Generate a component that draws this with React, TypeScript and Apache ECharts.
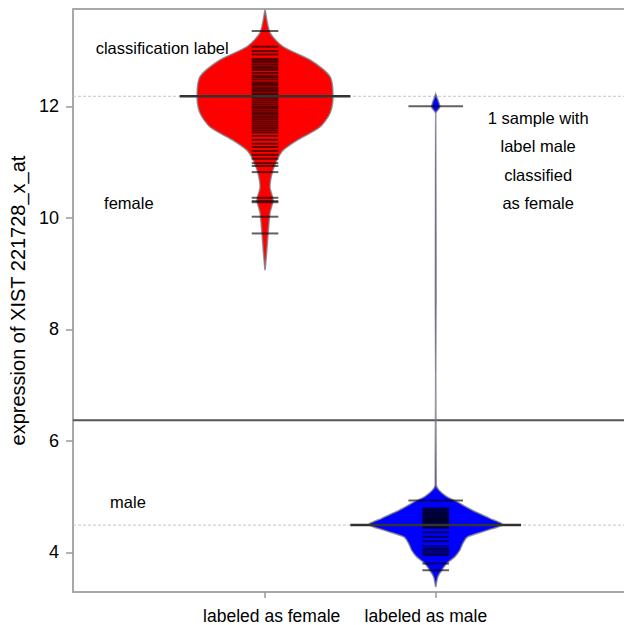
import React, { useEffect, useRef } from "react";
import * as echarts from "echarts";

const categories = ["labeled as female", "labeled as male"];
const categoryTicks = [1, 2];
const categoryLabelPos = [1.039, 1.942];
const yTicks = [4, 6, 8, 10, 12];

// individual samples (bean lines)
const femaleSamples = [
  13.35, 13.07, 12.99, 12.93, 12.85, 12.82, 12.79, 12.75, 12.71, 12.68, 12.65, 12.6,
  12.55, 12.52, 12.48, 12.43, 12.4, 12.37, 12.33, 12.3, 12.27, 12.23, 12.2, 12.15,
  12.11, 12.07, 12.03, 11.99, 11.96, 11.92, 11.88, 11.85, 11.81, 11.77, 11.73, 11.69,
  11.65, 11.61, 11.57, 11.53, 11.47, 11.4, 11.33, 11.27, 11.2, 11.13, 11.06, 10.98,
  10.93, 10.82, 10.36, 10.3, 10.28, 10.02, 9.72,
];
const maleSamples = [
  12.0, 4.93, 4.79, 4.77, 4.75, 4.72, 4.7, 4.68, 4.66, 4.64, 4.62, 4.6, 4.58, 4.56,
  4.54, 4.52, 4.5, 4.48, 4.46, 4.44, 4.36, 4.28, 4.2, 4.11, 4.06, 4.02, 3.98, 3.95,
  3.8, 3.68,
];

// density outline of each bean: value levels and half widths (x units)
const femaleProfileY = [9.06, 9.37, 9.73, 10.09, 10.32, 10.55, 10.8, 11.04, 11.21, 11.39, 11.63, 11.88, 12.17, 12.53, 12.83, 13.07, 13.32, 13.73];
const femaleProfileW = [0, 0.009, 0.018, 0.029, 0.047, 0.029, 0.041, 0.07, 0.105, 0.187, 0.322, 0.381, 0.398, 0.381, 0.264, 0.105, 0.029, 0];
const maleProfileY = [3.38, 3.56, 3.68, 3.8, 3.92, 4.04, 4.16, 4.28, 4.4, 4.5, 4.61, 4.76, 4.91, 5.0, 5.12, 5.21, 11.87, 11.99, 12.22];
const maleProfileW = [0, 0.012, 0.035, 0.064, 0.111, 0.141, 0.158, 0.187, 0.305, 0.392, 0.316, 0.211, 0.123, 0.064, 0.018, 0.003, 0, 0.024, 0];

const groupMeans = [12.18, 4.49];
const threshold = 6.37;

const annotationTexts = ["classification label", "female", "male", "1 sample with\nlabel male\nclassified\nas female"];
const annotationX = [0.008, 0.057, 0.092, 2.6];
const annotationY = [13.04, 10.27, 4.91, 11.03];
const annotationAlign = ["left", "left", "left", "center"];

const FONT = "'Liberation Sans', Arial, sans-serif";
const beanColors = ["#ff0000", "#0000ff"];
const FRAME = "#a8a8a8";

export default function App() {
  const ref = useRef<HTMLDivElement>(null);
  useEffect(() => {
    if (!ref.current) return;
    const chart = echarts.init(ref.current, null, { renderer: "svg" });
    const profilesY = [femaleProfileY, maleProfileY];
    const profilesW = [femaleProfileW, maleProfileW];

    const option: any = {
      animation: false,
      backgroundColor: "#ffffff",
      textStyle: { fontFamily: FONT },
      grid: { left: 73, top: 9, bottom: 33, right: 0, show: false },
      xAxis: {
        type: "value",
        min: -0.125,
        max: 3.103,
        splitLine: { show: false },
        axisLine: { show: true, onZero: false, lineStyle: { color: FRAME, width: 2 } },
        axisTick: { show: true, customValues: categoryTicks, length: 6, lineStyle: { color: "#999", width: 1.5 } },
        axisLabel: {
          customValues: categoryLabelPos,
          formatter: (v: number) => categories[Math.round(v) - 1] ?? "",
          fontSize: 17.5,
          color: "#000",
          margin: 15,
          fontFamily: FONT,
        },
      },
      yAxis: {
        type: "value",
        min: 3.29,
        max: 13.745,
        splitLine: { show: false },
        name: "expression of XIST 221728_x_at",
        nameLocation: "middle",
        nameGap: 43,
        nameTextStyle: { fontSize: 20, color: "#000", fontFamily: FONT },
        axisLine: { show: true, onZero: false, lineStyle: { color: FRAME, width: 2 } },
        axisTick: { show: true, customValues: yTicks, length: 7, lineStyle: { color: "#999", width: 1.5 } },
        axisLabel: {
          customValues: yTicks,
          fontSize: 18,
          color: "#000",
          margin: 14,
          fontFamily: FONT,
        },
      },
      series: [
        {
          // top frame line
          type: "custom",
          z: 1,
          data: [[0, 0]],
          renderItem: (params: any) => {
            const cs = params.coordSys;
            return {
              type: "line",
              shape: { x1: cs.x, y1: cs.y, x2: cs.x + cs.width + 5, y2: cs.y },
              style: { stroke: FRAME, lineWidth: 2 },
            };
          },
        },
        {
          type: "custom",
          z: 1,
          data: groupMeans.map((m) => [0, m]),
          renderItem: (params: any, api: any) => {
            const p = api.coord([0, api.value(1)]);
            const cs = params.coordSys;
            return {
              type: "line",
              shape: { x1: cs.x, y1: p[1], x2: cs.x + cs.width, y2: p[1] },
              style: { stroke: "#c4c4c4", lineWidth: 1, lineDash: [3, 2] },
            };
          },
        },
        {
          type: "custom",
          z: 2,
          data: [[0, threshold]],
          renderItem: (params: any, api: any) => {
            const p = api.coord([0, api.value(1)]);
            const cs = params.coordSys;
            return {
              type: "line",
              shape: { x1: cs.x, y1: p[1], x2: cs.x + cs.width, y2: p[1] },
              style: { stroke: "#555", lineWidth: 2 },
            };
          },
        },
        {
          type: "custom",
          z: 3,
          data: groupMeans.map((m, i) => [i + 1, m]),
          renderItem: (params: any, api: any) => {
            const g = api.value(0);
            const idx = params.dataIndex;
            const ys = profilesY[idx];
            const ws = profilesW[idx];
            const pts: number[][] = [];
            for (let i = 0; i < ys.length; i++) pts.push(api.coord([g + ws[i], ys[i]]));
            for (let i = ys.length - 1; i >= 0; i--) pts.push(api.coord([g - ws[i], ys[i]]));
            return {
              type: "polygon",
              shape: { points: pts, smooth: 0.25 },
              style: { fill: beanColors[idx], stroke: "rgba(120,120,128,0.75)", lineWidth: 1.6 },
            };
          },
        },
        {
          type: "custom",
          z: 4,
          data: [
            ...femaleSamples.map((v) => [1, v]),
            ...maleSamples.map((v) => [2, v]),
          ],
          renderItem: (params: any, api: any) => {
            const g = api.value(0);
            const v = api.value(1);
            const half = g === 2 && v > 4.9 ? 0.16 : 0.078;
            const a = api.coord([g - half, v]);
            const b = api.coord([g + half, v]);
            return {
              type: "line",
              shape: { x1: a[0], y1: a[1], x2: b[0], y2: b[1] },
              style: { stroke: "rgba(0,0,0,0.62)", lineWidth: 2 },
            };
          },
        },
        {
          type: "custom",
          z: 5,
          data: groupMeans.map((m, i) => [i + 1, m]),
          renderItem: (params: any, api: any) => {
            const g = api.value(0);
            const v = api.value(1);
            const a = api.coord([g - 0.5, v]);
            const b = api.coord([g + 0.5, v]);
            return {
              type: "line",
              shape: { x1: a[0], y1: a[1], x2: b[0], y2: b[1] },
              style: { stroke: "#333", lineWidth: 2.5 },
            };
          },
        },
        {
          type: "custom",
          z: 6,
          data: annotationX.map((x, i) => [x, annotationY[i]]),
          renderItem: (params: any, api: any) => {
            const i = params.dataIndex;
            const p = api.coord([api.value(0), api.value(1)]);
            return {
              type: "text",
              x: p[0],
              y: p[1],
              style: {
                text: annotationTexts[i],
                fill: "#000",
                fontSize: 16.5,
                fontFamily: FONT,
                align: annotationAlign[i],
                verticalAlign: "middle",
                lineHeight: 28.5,
              },
            };
          },
        },
      ],
    };
    chart.setOption(option);
    return () => chart.dispose();
  }, []);
  return (
    <div
      ref={ref}
      style={{ position: "fixed", left: 0, top: 0, width: 624, height: 625 }}
    />
  );
}
